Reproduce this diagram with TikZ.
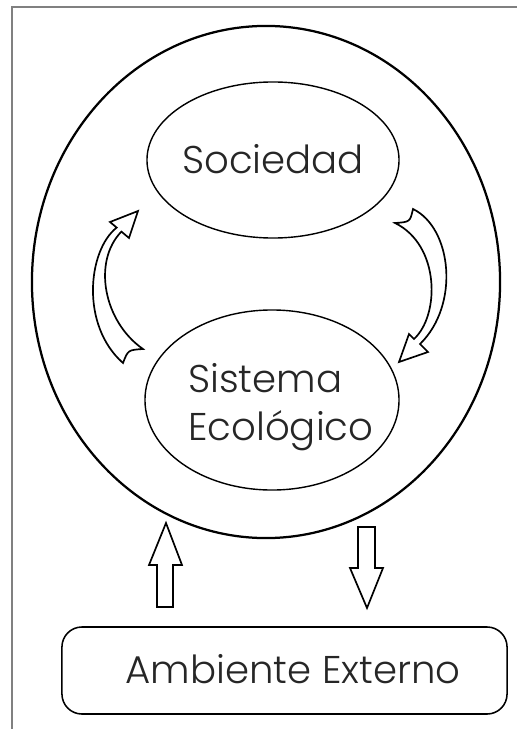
\documentclass[tikz,border=0pt]{standalone}
\usepackage{fontspec}
\setmainfont{Poppins}[UprightFont=* Light]
\usetikzlibrary{shapes.geometric}

\begin{document}
\begin{tikzpicture}[x=0.025cm,y=-0.025cm,
    bubble/.style={draw,ellipse,line width=1pt,inner sep=0pt},
    blockarrow/.style={draw,line width=1.2pt,line join=miter,fill=white},
    lbl/.style={font=\fontsize{27.5}{34}\selectfont,align=left,inner sep=0pt,text=black!85}]
  \useasboundingbox (0,0) rectangle (517,729);
  % marco
  \draw[gray,line width=.8pt] (517,7) -- (12,7) -- (12,729);

  \node[bubble,line width=1.6pt,minimum width=11.7cm,minimum height=12.8cm] (entorno) at (266,282) {};
  \node[bubble,minimum width=6.3cm,minimum height=3.9cm] (sociedad) at (273,160) {};
  \node[bubble,minimum width=6.35cm,minimum height=4.5cm] (sistema) at (272,400) {};
  \node[lbl,anchor=base] (tsoc) at (273,173) {Sociedad};
  \node[lbl,anchor=base west] (tsis) at (188,440) {Sistema\\Ecológico};

  % flechas curvas
  \draw[blockarrow] (138,211) -- (129,238) -- (121.4,231.6)
    .. controls (92,262) and (104,322) .. (143,349)
    .. controls (128,350) .. (123,363)
    .. controls (80,325) and (88,250) .. (116.7,227.6) -- (110,222) -- cycle;
  \draw[blockarrow] (395,223) .. controls (410,222) .. (413,209)
    .. controls (452,228) and (460,305) .. (420,344) -- (428,352) -- (399,362)
    -- (409,334) -- (414,339) .. controls (440,315) and (440,245) .. (395,223) -- cycle;

  % ambiente
  \node[draw,rounded corners=.5cm,line width=1.1pt,minimum width=11.125cm,minimum height=2.175cm] (externo) at (284.5,670.5) {};
  \node[lbl,anchor=base] (tamb) at (293,683) {Ambiente Externo};
  \draw[blockarrow] (166,523) -- (182,565) -- (173,565) -- (173,607) -- (157,607) -- (157,565) -- (149,565) -- cycle;
  \draw[blockarrow] (358,527) -- (375,527) -- (375,568) -- (383,568) -- (367,608) -- (350,568) -- (358,568) -- cycle;
\end{tikzpicture}
\end{document}
